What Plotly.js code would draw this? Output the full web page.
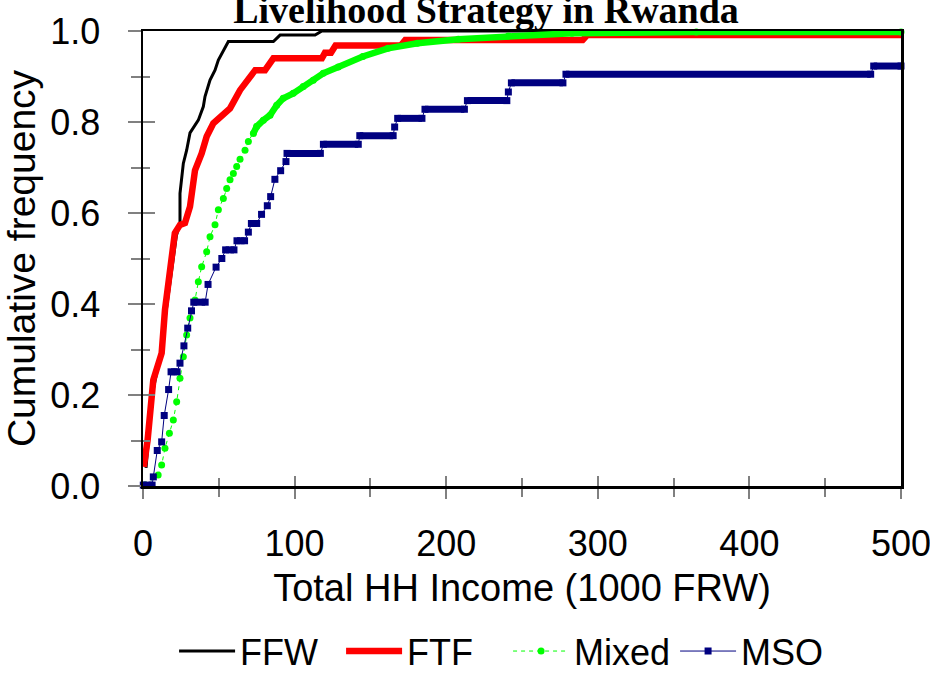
<!DOCTYPE html>
<html>
<head>
<meta charset="utf-8">
<script src="https://cdn.plot.ly/plotly-3.0.1.min.js"></script>
<style>html,body{margin:0;padding:0;background:#fff;}#chart{width:930px;height:673px;}</style>
</head>
<body>
<div id="chart"></div>
<script>
// ---- Data (income in 1000 FRW, cumulative frequency) ----
var ffwIncome = [2, 6, 11, 15, 18, 22, 24.4, 24.4, 26.6, 28.8, 31, 36.5, 39.8, 40.9, 44.2, 47.5, 49.7, 53, 56.3, 86, 90.4, 113.5, 118, 500];
var ffwCum    = [0.04, 0.2, 0.28, 0.38, 0.46, 0.55, 0.578, 0.643, 0.709, 0.738, 0.776, 0.804, 0.834, 0.856, 0.892, 0.914, 0.936, 0.958, 0.977, 0.977, 0.991, 0.991, 1.0, 1.0];

var ftfIncome = [0.5, 3, 6.8, 12.3, 14.5, 17.8, 21, 24.4, 27.7, 31, 34.3, 38.7, 42, 46.4, 54, 57.4, 64, 68.4, 74, 80.5, 86, 118, 120, 124, 127, 170, 173, 290, 293, 500];
var ftfCum    = [0.042, 0.1, 0.233, 0.292, 0.387, 0.468, 0.556, 0.574, 0.578, 0.614, 0.694, 0.731, 0.768, 0.797, 0.819, 0.830, 0.870, 0.892, 0.914, 0.914, 0.940, 0.940, 0.952, 0.952, 0.968, 0.968, 0.980, 0.980, 0.991, 0.991];

var mixedIncome = [1.3, 10, 12.3, 14.5, 17.4, 20, 22.2, 24.4, 26.6, 28.8, 31, 34.3, 36.5, 38.7, 42, 44.2, 47.5, 49.7, 53, 55.2, 57.4, 59.6, 61.8, 64, 67.3, 69.5, 72.8, 75, 79.4, 83.8, 88.2, 92.5, 99.1, 105.7, 112.3, 118.9, 128.8, 145, 161.6, 181, 208, 241, 283, 365, 500];
var mixedCum    = [0.002, 0.024, 0.046, 0.083, 0.116, 0.145, 0.185, 0.237, 0.284, 0.332, 0.369, 0.409, 0.449, 0.482, 0.515, 0.548, 0.574, 0.607, 0.632, 0.654, 0.673, 0.687, 0.702, 0.718, 0.738, 0.757, 0.775, 0.790, 0.804, 0.815, 0.837, 0.852, 0.863, 0.878, 0.892, 0.907, 0.921, 0.944, 0.962, 0.973, 0.982, 0.989, 0.995, 0.998, 0.998];
var mixedDenseFrom = 72; // income above which the Mixed markers merge into a band

var msoIncome = [0.2, 6, 6.8, 9.4, 12.3, 14, 16.9, 18.5, 22.5, 24.4, 27, 29.5, 32, 33.5, 41, 42.9, 48.2, 52, 54.5, 60, 62, 67, 69.5, 71.5, 75, 78.2, 82, 84.2, 87, 90.8, 94.3, 95, 117, 119, 142, 143, 165, 166, 168, 184, 186, 212, 214, 240, 241, 243, 277, 279, 480, 482, 500];
var msoCum    = [0.002, 0.002, 0.02, 0.078, 0.097, 0.155, 0.212, 0.251, 0.251, 0.270, 0.308, 0.347, 0.385, 0.404, 0.404, 0.443, 0.481, 0.500, 0.519, 0.519, 0.539, 0.539, 0.558, 0.577, 0.577, 0.597, 0.616, 0.636, 0.674, 0.693, 0.713, 0.731, 0.731, 0.751, 0.751, 0.770, 0.770, 0.789, 0.808, 0.808, 0.828, 0.828, 0.847, 0.847, 0.866, 0.886, 0.886, 0.905, 0.905, 0.923, 0.923];

var xTickVals = [0, 100, 200, 300, 400, 500];
var yTickVals = [0, 0.2, 0.4, 0.6, 0.8, 1.0];

var titleText = 'Livelihood Strategy in Rwanda';
var xTitle = 'Total HH Income (1000 FRW)';
var yTitle = 'Cumulative frequency';

// ---- Derived helper series ----
var denseX = [], denseY = [];
for (var i = 0; i < mixedIncome.length; i++) {
  if (mixedIncome[i] >= mixedDenseFrom) { denseX.push(mixedIncome[i]); denseY.push(mixedCum[i]); }
}
var barX = [], barY = [];
for (var j = 0; j < msoIncome.length - 1; j++) {
  if (msoCum[j] === msoCum[j + 1]) {
    barX.push(msoIncome[j], msoIncome[j + 1], null);
    barY.push(msoCum[j], msoCum[j + 1], null);
  }
}

var NAVY = '#000080', GREEN = '#00FF00';

var traces = [
  {x: ffwIncome, y: ffwCum, name: 'FFW', mode: 'lines', line: {color: '#000000', width: 3}, cliponaxis: false},
  {x: ftfIncome, y: ftfCum, name: 'FTF', mode: 'lines', line: {color: '#FF0000', width: 6.5}, cliponaxis: false},
  {x: mixedIncome, y: mixedCum, name: 'Mixed', mode: 'lines+markers', line: {color: GREEN, width: 1, dash: '4px,4px'},
   marker: {symbol: 'circle', size: 7, color: GREEN}, cliponaxis: false},
  {x: denseX, y: denseY, mode: 'lines', line: {color: GREEN, width: 6.5}, showlegend: false, hoverinfo: 'skip', cliponaxis: false},
  {x: msoIncome, y: msoCum, name: 'MSO', mode: 'lines+markers', line: {color: NAVY, width: 1},
   marker: {symbol: 'square', size: 7, color: NAVY}, cliponaxis: false},
  {x: barX, y: barY, mode: 'lines', line: {color: NAVY, width: 7}, showlegend: false, hoverinfo: 'skip', cliponaxis: false},
  {x: [], y: [], xaxis: 'x2', yaxis: 'y2', showlegend: false, hoverinfo: 'skip'}
];

var tickGray = '#808080';
var layout = {
  width: 930, height: 673,
  margin: {l: 143, r: 29, t: 31, b: 187, autoexpand: false},
  paper_bgcolor: '#ffffff', plot_bgcolor: '#ffffff',
  showlegend: true,
  font: {family: 'Liberation Sans, Arial, sans-serif', color: '#000000'},
  title: {text: '<b>' + titleText + '</b>', font: {family: 'Liberation Serif, Times New Roman, serif', size: 38, color: '#000'},
          x: 0.5226, xref: 'container', xanchor: 'center', y: 0.985, yref: 'container', yanchor: 'middle'},
  xaxis: {
    range: [0, 500], tickvals: xTickVals, ticks: 'outside', ticklen: 10, tickwidth: 2, tickcolor: tickGray,
    minor: {dtick: 50, tick0: 0, ticks: 'outside', ticklen: 8, tickwidth: 2, tickcolor: tickGray, showgrid: false},
    showline: true, linecolor: '#000', linewidth: 2.5, mirror: true, showgrid: false, zeroline: false,
    tickfont: {size: 36}, ticklabelstandoff: 14, ticklabeloverflow: 'allow',
    title: {text: xTitle, font: {size: 38}, standoff: 12}
  },
  yaxis: {
    range: [0, 1], tickvals: yTickVals, tickformat: '.1f', ticks: 'outside', ticklen: 13, tickwidth: 2, tickcolor: tickGray,
    minor: {dtick: 0.1, tick0: 0, ticks: 'outside', ticklen: 10, tickwidth: 2, tickcolor: tickGray, showgrid: false},
    showline: true, linecolor: '#000', linewidth: 2.5, mirror: true, showgrid: false, zeroline: false,
    tickfont: {size: 36}, ticklabelstandoff: 20, ticklabeloverflow: 'allow',
    title: {text: yTitle, font: {size: 39}, standoff: 4}
  },
  xaxis2: {overlaying: 'x', anchor: 'y2', range: [0, 500], tickvals: xTickVals, ticks: 'inside', ticklen: 10, tickwidth: 2, tickcolor: tickGray,
    minor: {dtick: 50, tick0: 0, ticks: 'inside', ticklen: 8, tickwidth: 2, tickcolor: tickGray},
    showticklabels: false, showline: false, showgrid: false, zeroline: false},
  yaxis2: {overlaying: 'y', anchor: 'x2', range: [0, 1], tickvals: yTickVals, ticks: 'inside', ticklen: 12, tickwidth: 2, tickcolor: tickGray,
    minor: {dtick: 0.1, tick0: 0, ticks: 'inside', ticklen: 7, tickwidth: 2, tickcolor: tickGray},
    showticklabels: false, showline: false, showgrid: false, zeroline: false},
  legend: {orientation: 'h', x: 0.041, xanchor: 'left', y: -0.297, yanchor: 'top', font: {size: 36},
           itemwidth: 56, entrywidth: 96, entrywidthmode: 'pixels', bgcolor: 'rgba(0,0,0,0)', tracegroupgap: 0}
};

Plotly.newPlot('chart', traces, layout, {displayModeBar: false, staticPlot: true});
</script>
</body>
</html>
